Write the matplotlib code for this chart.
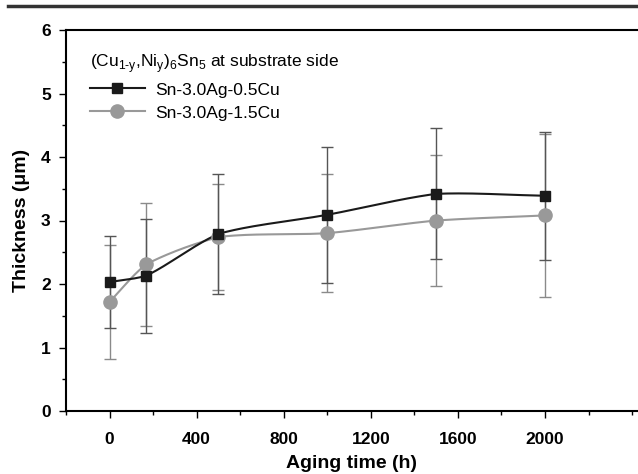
import numpy as np
import matplotlib
matplotlib.use("Agg")
import matplotlib.pyplot as plt
from matplotlib.lines import Line2D

plt.rcParams['font.family'] = ['Liberation Sans', 'DejaVu Sans']
plt.rcParams['mathtext.fontset'] = 'custom'
plt.rcParams['mathtext.rm'] = 'Liberation Sans'

hours = [0, 168, 500, 1000, 1500, 2000]
cu05 = [2.03, 2.13, 2.79, 3.09, 3.42, 3.39]
cu05_err = [0.73, 0.90, 0.95, 1.07, 1.03, 1.01]
cu15 = [1.72, 2.31, 2.74, 2.80, 3.00, 3.08]
cu15_err = [0.90, 0.97, 0.83, 0.93, 1.03, 1.28]
xticks = [0, 400, 800, 1200, 1600, 2000]
yticks = [0, 1, 2, 3, 4, 5, 6]


def smooth_line(x, y, sx=0.2178, sy=63.5, n=40, w=0.55):
    """Softened centripetal Catmull-Rom curve through the points (drawing only)."""
    P = np.column_stack([np.asarray(x, float) * sx, np.asarray(y, float) * sy])
    P = np.vstack([2 * P[0] - P[1], P, 2 * P[-1] - P[-2]])
    pts = []
    for i in range(1, len(P) - 2):
        p0, p1, p2, p3 = P[i - 1], P[i], P[i + 1], P[i + 2]
        def tj(ti, a, b):
            return ti + np.linalg.norm(b - a) ** 0.5
        t0 = 0.0; t1 = tj(t0, p0, p1); t2 = tj(t1, p1, p2); t3 = tj(t2, p2, p3)
        t = np.linspace(t1, t2, n)[:, None]
        A1 = (t1 - t) / (t1 - t0) * p0 + (t - t0) / (t1 - t0) * p1
        A2 = (t2 - t) / (t2 - t1) * p1 + (t - t1) / (t2 - t1) * p2
        A3 = (t3 - t) / (t3 - t2) * p2 + (t - t2) / (t3 - t2) * p3
        B1 = (t2 - t) / (t2 - t0) * A1 + (t - t0) / (t2 - t0) * A2
        B2 = (t3 - t) / (t3 - t1) * A2 + (t - t1) / (t3 - t1) * A3
        C = (t2 - t) / (t2 - t1) * B1 + (t - t1) / (t2 - t1) * B2
        u = (t - t1) / (t2 - t1)
        L = (1 - u) * p1 + u * p2
        pts.append(L + w * (C - L))
    C = np.vstack(pts)
    return C[:, 0] / sx, C[:, 1] / sy


fig = plt.figure(figsize=(6.38, 4.74), dpi=100)
ax = fig.add_axes([66 / 638, 1 - 411 / 474, 1 - 66 / 638, (411 - 30) / 474])

black = '#1a1a1a'
gray = '#999999'

ax.errorbar(hours, cu15, yerr=cu15_err, fmt='none', ecolor='#8a8a8a',
            elinewidth=1.0, capsize=4, capthick=1.0, zorder=2)
ax.errorbar(hours, cu05, yerr=cu05_err, fmt='none', ecolor='#555555',
            elinewidth=1.0, capsize=4, capthick=1.0, zorder=2)
gx, gy = smooth_line(hours, cu15)
bx, by = smooth_line(hours, cu05)
ax.plot(gx, gy, color=gray, lw=1.5, zorder=3)
ax.plot(bx, by, color=black, lw=1.5, zorder=4)
ax.plot(hours, cu15, 'o', color=gray, ms=9.5, mec=gray, zorder=5)
ax.plot(hours, cu05, 's', color=black, ms=7.5, zorder=6)

ax.set_xlim(-200, 2427)
ax.set_ylim(0, 6)
ax.set_xticks(xticks)
ax.set_xticks(np.arange(-200, 2401, 200), minor=True)
ax.set_yticks(yticks)
ax.set_yticks(np.arange(0, 6.01, 0.5), minor=True)
ax.tick_params(which='both', direction='out', width=1.0, labelsize=12.5)
ax.tick_params(which='major', length=5)
ax.tick_params(which='minor', length=3)
ax.tick_params(axis='x', which='major', pad=10)
ax.tick_params(axis='y', which='major', pad=6)
for lab in ax.get_xticklabels() + ax.get_yticklabels():
    lab.set_fontweight('bold')
ax.spines['right'].set_visible(False)
for s in ['left', 'bottom', 'top']:
    ax.spines[s].set_linewidth(1.5)

ax.set_xlabel('Aging time (h)', fontsize=14, fontweight='bold', labelpad=6)
ax.set_ylabel('Thickness (μm)', fontsize=14, fontweight='bold', labelpad=8)

handles = [Line2D([], [], color=black, lw=1.5, marker='s', ms=7.5),
           Line2D([], [], color=gray, lw=1.5, marker='o', ms=9.5)]
leg = ax.legend(handles, ['Sn-3.0Ag-0.5Cu', 'Sn-3.0Ag-1.5Cu'],
                title=r'(Cu$_{\text{1-y}}$,Ni$_{\text{y}}$)$_{\text{6}}$Sn$_{\text{5}}$ at substrate side',
                loc='upper left', bbox_to_anchor=(0.02, 0.975), frameon=False,
                fontsize=12.5, title_fontsize=12.5, handlelength=3.2,
                handletextpad=0.55, labelspacing=0.45, borderaxespad=0.3)
leg._legend_box.align = 'left'

fig.add_artist(Line2D([8 / 638, 1.0], [1 - 6 / 474, 1 - 6 / 474],
                      color='#333333', lw=2.5, transform=fig.transFigure))

fig.savefig('out.png', dpi=100)
